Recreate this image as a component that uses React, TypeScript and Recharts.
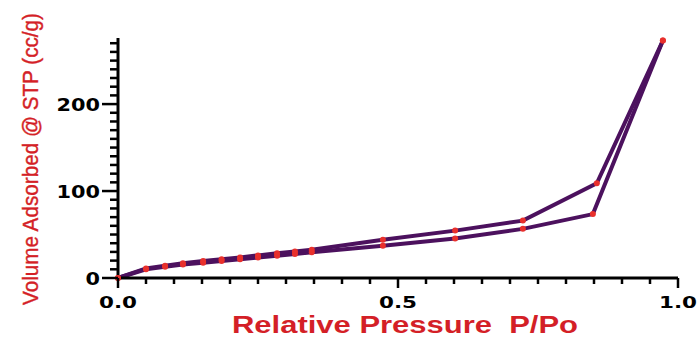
import { LineChart, Line, XAxis, YAxis, Label } from "recharts";

// N2 isotherm
const adsorptionP = [0, 0.05, 0.084, 0.116, 0.152, 0.185, 0.218, 0.25, 0.284, 0.316, 0.346, 0.473, 0.602, 0.723, 0.848, 0.973];
const adsorptionV = [0, 10, 13, 15.5, 17.5, 19.5, 21.5, 23.5, 25.5, 27.5, 29.5, 37, 45.5, 56.5, 73.5, 273];
const desorptionP = [0.973, 0.855, 0.723, 0.602, 0.473, 0.346, 0.316, 0.284, 0.25, 0.218, 0.185, 0.152, 0.116, 0.084, 0.05, 0];
const desorptionV = [273, 109, 66, 54.5, 44, 32.5, 30.5, 28.5, 26, 23.5, 21.5, 19.5, 17, 14, 11, 0];

const xTicks = [0, 0.05, 0.1, 0.15, 0.2, 0.25, 0.3, 0.35, 0.4, 0.45, 0.5, 0.55, 0.6, 0.65, 0.7, 0.75, 0.8, 0.85, 0.9, 0.95, 1];
const xMajor = [0, 0.5, 1];
const yTicks = [0, 10, 20, 30, 40, 50, 60, 70, 80, 90, 100, 110, 120, 130, 140, 150, 160, 170, 180, 190, 200, 210, 220, 230, 240, 250, 260, 270];
const yMajor = [0, 100, 200];

const adsorption = adsorptionP.map((p, i) => ({ p, v: adsorptionV[i] }));
const desorption = desorptionP.map((p, i) => ({ p, v: desorptionV[i] }));

const LINE = "#4c115e";
const DOT = "#e8302c";
const RED = "#d41f27";
const tickFont = "'DejaVu Sans', sans-serif";

// digits drawn wide, like the original's heavy font
const labelWidth = (s: string) => s.split("").reduce((w, c) => w + (c === "." ? 9 : 14.5), 0);

function XTick(props: any) {
  const { x, y, payload } = props;
  const major = xMajor.some((m) => Math.abs(m - payload.value) < 1e-6);
  const text = payload.value.toFixed(1);
  return (
    <g>
      <line x1={x} y1={y} x2={x} y2={y + (major ? 10 : 6)} stroke="#000" strokeWidth={2.5} />
      {major && (
        <text x={x} y={y + 30} textAnchor="middle" fontFamily={tickFont} fontWeight="bold" fontSize={16.5}
          fill="#000" textLength={labelWidth(text)} lengthAdjust="spacingAndGlyphs">
          {text}
        </text>
      )}
    </g>
  );
}

function YTick(props: any) {
  const { x, y, payload } = props;
  const major = yMajor.includes(payload.value);
  const text = String(payload.value);
  return (
    <g>
      <line x1={x} y1={y} x2={x - (major ? 16 : 8)} y2={y} stroke="#000" strokeWidth={2.5} />
      {major && (
        <text x={x - 18} y={y + 6.5} textAnchor="end" fontFamily={tickFont} fontWeight="bold" fontSize={17}
          fill="#000" textLength={labelWidth(text)} lengthAdjust="spacingAndGlyphs">
          {text}
        </text>
      )}
    </g>
  );
}

export default function App() {
  return (
    <div style={{ position: "absolute", left: 0, top: 0, background: "#fff" }}>
      <LineChart width={697} height={338} margin={{ top: 38, right: 19, bottom: 0, left: 0 }}>
        <XAxis
          dataKey="p"
          type="number"
          domain={[0, 1]}
          ticks={xTicks}
          interval={0}
          allowDuplicatedCategory={false}
          height={60}
          tickSize={0}
          tickMargin={0}
          tick={<XTick />}
          axisLine={{ stroke: "#000", strokeWidth: 3 }}
        >
          <Label
            content={() => (
              <text x={405} y={333} textAnchor="middle" fontFamily="'Liberation Sans', Arial, sans-serif"
                fontWeight="bold" fontSize={23} fill={RED} textLength={346} lengthAdjust="spacingAndGlyphs">
                {"Relative Pressure \u00a0P/Po"}
              </text>
            )}
          />
        </XAxis>
        <YAxis
          dataKey="v"
          type="number"
          domain={[0, 276]}
          ticks={yTicks}
          interval={0}
          width={118}
          tickSize={0}
          tickMargin={0}
          tick={<YTick />}
          axisLine={{ stroke: "#000", strokeWidth: 3 }}
        >
          <Label
            content={() => (
              <text x={38} y={159} transform="rotate(-90 38 159)" textAnchor="middle"
                fontFamily="'Liberation Sans', Arial, sans-serif" fontSize={22} fontWeight={500}
                stroke={RED} strokeWidth={0.4} fill={RED}
                textLength={292} lengthAdjust="spacingAndGlyphs">
                Volume Adsorbed @ STP (cc/g)
              </text>
            )}
          />
        </YAxis>
        <Line
          data={adsorption}
          dataKey="v"
          stroke={LINE}
          strokeWidth={4}
          dot={{ r: 3, fill: DOT, stroke: "none" }}
          isAnimationActive={false}
        />
        <Line
          data={desorption}
          dataKey="v"
          stroke={LINE}
          strokeWidth={4}
          dot={{ r: 3, fill: DOT, stroke: "none" }}
          isAnimationActive={false}
        />
      </LineChart>
    </div>
  );
}
